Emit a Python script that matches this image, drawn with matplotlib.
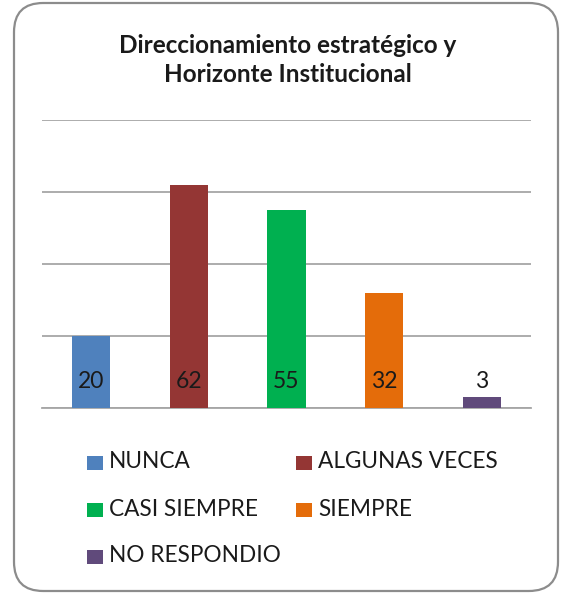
import matplotlib
matplotlib.use("Agg")
import matplotlib.pyplot as plt
from matplotlib.patches import FancyBboxPatch, Rectangle

categories = ["NUNCA", "ALGUNAS VECES", "CASI SIEMPRE", "SIEMPRE", "NO RESPONDIO"]
values = [20, 62, 55, 32, 3]
colors = ["#4F81BD", "#943634", "#00B050", "#E46C0A", "#604A7B"]
title = "Direccionamiento estratégico y\nHorizonte Institucional"

W, H = 561, 594
fig = plt.figure(figsize=(W / 100, H / 100), dpi=100)
plt.rcParams['font.family'] = ['Lato', 'DejaVu Sans']

# rounded border
border = FancyBboxPatch((14 / W, 3 / H), 544 / W, 588 / H,
                        boxstyle="round,pad=0,rounding_size=0.052",
                        transform=fig.transFigure, facecolor="none",
                        edgecolor="#8C8C8C", linewidth=1.6, mutation_aspect=W / H)
fig.patches.append(border)

ax = fig.add_axes([42 / W, (H - 408) / H, 489 / W, 288 / H])
ax.set_facecolor("none")
x = list(range(len(categories)))
bars = ax.bar(x, values, width=0.39, color=colors, zorder=3)
ax.set_xlim(-0.5, len(categories) - 0.5)
ax.set_ylim(0, 80)
ax.set_yticks([0, 20, 40, 60, 80])
ax.yaxis.grid(True, color="#A6A6A6", linewidth=1.3, zorder=0)
ax.tick_params(left=False, bottom=False, labelleft=False, labelbottom=False)
for s in ["top", "right", "left"]:
    ax.spines[s].set_visible(False)
ax.spines["bottom"].set_color("#A6A6A6")
ax.spines["bottom"].set_linewidth(1.3)

for xi, v in zip(x, values):
    ax.text(xi, 7.5, str(v), ha="center", va="center", fontsize=16.5,
            color="#1a1a1a", zorder=4)

fig.text(288 / W, 1 - 60 / H, title, ha="center", va="center", fontsize=17.5,
         fontweight="bold", color="#1a1a1a", linespacing=1.35)

# legend (row-wise, two columns)
col_x = [87, 296]
row_y = [463, 510, 557]
for i, (cat, c) in enumerate(zip(categories, colors)):
    r, cidx = divmod(i, 2)
    mx, my = col_x[cidx], row_y[r]
    fig.patches.append(Rectangle((mx / W, 1 - (my + 7) / H), 16 / W, 14 / H,
                                 transform=fig.transFigure, facecolor=c,
                                 edgecolor="none"))
    fig.text((mx + 22) / W, 1 - (my - 1) / H, cat, ha="left", va="center",
             fontsize=16.3, color="#1a1a1a")

fig.savefig("out.png", dpi=100)
